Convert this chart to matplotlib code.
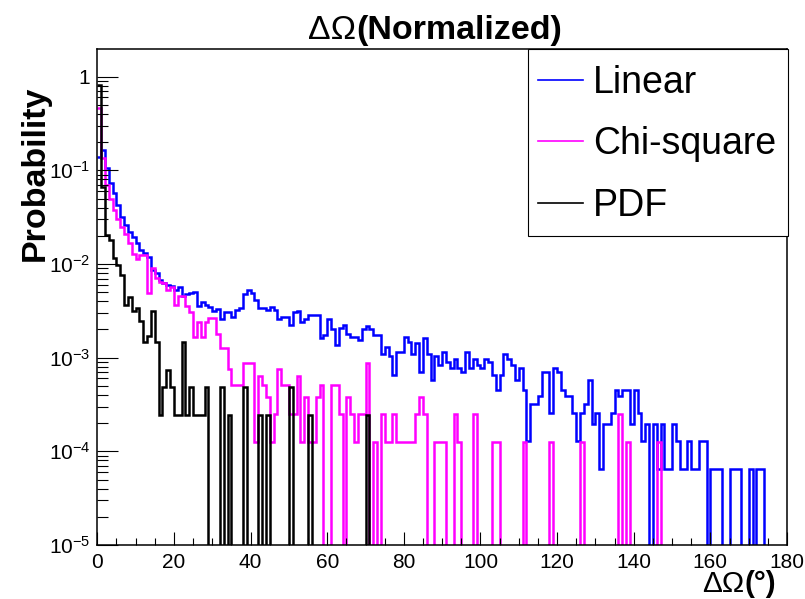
import numpy as np
import matplotlib
matplotlib.use("Agg")
import matplotlib.pyplot as plt
import matplotlib.ticker as mticker
from matplotlib.lines import Line2D
from matplotlib.patches import Rectangle

plt.rcParams['font.family'] = ['Liberation Sans', 'DejaVu Sans']
plt.rcParams['mathtext.fontset'] = 'custom'
plt.rcParams['mathtext.rm'] = 'Liberation Sans'
plt.rcParams['mathtext.it'] = 'Liberation Sans:italic'
plt.rcParams['mathtext.bf'] = 'Liberation Sans:bold'

# ---------------- data (1-degree bins, 0..180 deg) ----------------
X_MIN, X_MAX, BIN_WIDTH = 0.0, 180.0, 1.0
series_names = ["Linear", "Chi-square", "PDF"]
series_colors = ["#0000ff", "#ff00ff", "#000000"]

# raw entries per bin, normalised by the number of events of each method
linear_total = 15500
linear_counts = [
    2139, 2558, 1628, 1132, 884, 667, 496, 403, 341, 304,
    257, 219, 202, 186, 135, 123, 105, 96, 92, 90,
    82, 88, 70, 75, 76, 77, 55, 61, 57, 54,
    49, 51, 40, 48, 48, 42, 50, 52, 75, 82,
    76, 64, 52, 52, 50, 54, 50, 40, 42, 42,
    35, 48, 49, 37, 40, 44, 44, 44, 25, 27,
    40, 31, 21, 32, 35, 28, 26, 26, 24, 31,
    34, 31, 27, 27, 17, 20, 16, 10, 18, 18,
    26, 23, 17, 22, 11, 25, 17, 9, 16, 13,
    18, 14, 12, 15, 12, 11, 18, 12, 15, 13,
    12, 15, 14, 10, 7, 10, 17, 15, 13, 9,
    12, 7, 2, 5, 5, 6, 11, 11, 4, 12,
    11, 7, 6, 6, 4, 2, 4, 5, 9, 3,
    4, 1, 3, 3, 4, 7, 6, 7, 7, 3,
    7, 4, 2, 3, 0, 3, 1, 3, 1, 1,
    3, 2, 1, 1, 2, 1, 1, 2, 2, 0,
    1, 1, 1, 0, 0, 1, 1, 1, 0, 0,
    1, 0, 1, 1, 0, 0, 0, 0, 0, 0,
]

chisq_total = 7900
chisq_counts = [
    3634, 1066, 553, 395, 300, 237, 198, 166, 134, 101,
    90, 99, 99, 39, 71, 56, 51, 50, 42, 45,
    29, 36, 36, 28, 24, 13, 19, 13, 19, 21,
    21, 14, 10, 10, 6, 4, 4, 4, 7, 7,
    7, 1, 5, 4, 3, 1, 2, 6, 4, 4,
    2, 2, 5, 1, 3, 1, 1, 3, 4, 0,
    0, 4, 4, 2, 0, 3, 2, 1, 2, 2,
    7, 0, 1, 0, 2, 1, 1, 2, 1, 1,
    1, 1, 1, 2, 3, 2, 0, 0, 1, 1,
    1, 0, 0, 2, 1, 0, 0, 0, 2, 0,
    0, 0, 0, 1, 1, 0, 0, 0, 0, 0,
    0, 1, 0, 0, 0, 0, 0, 0, 1, 0,
    0, 0, 0, 0, 0, 0, 1, 0, 0, 0,
    0, 0, 0, 0, 0, 0, 2, 0, 1, 0,
    0, 0, 0, 0, 0, 0, 1, 0, 0, 0,
    0, 0, 0, 0, 0, 0, 0, 0, 0, 0,
    0, 0, 0, 0, 0, 0, 0, 0, 0, 0,
    0, 0, 0, 0, 0, 0, 0, 0, 0, 0,
]

pdf_total = 4100
pdf_counts = [
    3340, 275, 84, 74, 47, 40, 31, 15, 18, 13,
    14, 10, 6, 7, 13, 6, 1, 2, 3, 2,
    1, 1, 6, 1, 2, 1, 1, 1, 2, 0,
    0, 0, 2, 0, 1, 0, 0, 0, 2, 0,
    0, 0, 1, 0, 1, 0, 0, 0, 0, 0,
    2, 0, 0, 0, 0, 1, 0, 0, 0, 0,
    0, 0, 0, 0, 0, 0, 0, 0, 0, 0,
    1, 0, 0, 0, 0, 0, 0, 0, 0, 0,
    0, 0, 0, 0, 0, 0, 0, 0, 0, 0,
    0, 0, 0, 0, 0, 0, 0, 0, 0, 0,
    0, 0, 0, 0, 0, 0, 0, 0, 0, 0,
    0, 0, 0, 0, 0, 0, 0, 0, 0, 0,
    0, 0, 0, 0, 0, 0, 0, 0, 0, 0,
    0, 0, 0, 0, 0, 0, 0, 0, 0, 0,
    0, 0, 0, 0, 0, 0, 0, 0, 0, 0,
    0, 0, 0, 0, 0, 0, 0, 0, 0, 0,
    0, 0, 0, 0, 0, 0, 0, 0, 0, 0,
    0, 0, 0, 0, 0, 0, 0, 0, 0, 0,
]

x_ticks = [0, 20, 40, 60, 80, 100, 120, 140, 160, 180]
y_min, y_max = 1e-5, 1.96

title_greek = "ΔΩ"
title_rest = "(Normalized)"
xlabel_greek = "ΔΩ"
xlabel_rest = "(°)"
ylabel = "Probability"

# ---------------- figure ----------------
W, H = 805, 599
fig = plt.figure(figsize=(W / 100, H / 100), dpi=100)
L, R, T, B = 97.3, 787.0, 49.3, 545.0
ax = fig.add_axes([L / W, 1 - B / H, (R - L) / W, (B - T) / H])

edges = np.arange(X_MIN, X_MAX + BIN_WIDTH / 2, BIN_WIDTH)
series = [
    np.asarray(linear_counts, float) / linear_total,
    np.asarray(chisq_counts, float) / chisq_total,
    np.asarray(pdf_counts, float) / pdf_total,
]

ax.set_yscale('log', nonpositive='clip')
for vals, col in zip(series, series_colors):
    ax.stairs(vals, edges, baseline=None, color=col, lw=1.8)

ax.set_xlim(X_MIN, X_MAX)
ax.set_ylim(y_min, y_max)

for s in ax.spines.values():
    s.set_linewidth(1.1)

ax.set_xticks(x_ticks)
ax.xaxis.set_minor_locator(mticker.MultipleLocator(5))
ax.yaxis.set_major_locator(mticker.LogLocator(base=10, numticks=10))
ax.yaxis.set_minor_locator(mticker.LogLocator(base=10, subs=np.arange(2, 10), numticks=20))
ax.yaxis.set_minor_formatter(mticker.NullFormatter())


def yfmt(v, pos):
    e = int(round(np.log10(v)))
    if e == 0:
        return "1"
    return r"$10^{%d}$" % e


ax.yaxis.set_major_formatter(mticker.FuncFormatter(yfmt))
ax.tick_params(axis='x', which='major', direction='in', length=9.5, width=0.8,
               labelsize=15, pad=6, top=False)
ax.tick_params(axis='x', which='minor', direction='in', length=4.8, width=0.8, top=False)
ax.tick_params(axis='y', which='major', direction='in', length=15, width=0.8,
               labelsize=15, pad=5, right=False)
ax.tick_params(axis='y', which='minor', direction='in', length=8, width=0.8, right=False)

# titles
fig.text(356 / W, 1 - 39 / H, title_greek, ha='right', va='baseline', fontsize=24.5)
fig.text(356 / W, 1 - 39 / H, title_rest, ha='left', va='baseline', fontsize=24.5,
         fontweight='bold')
fig.text(744 / W, 1 - 592 / H, xlabel_greek, ha='right', va='baseline', fontsize=21.5)
fig.text(744 / W, 1 - 592 / H, xlabel_rest, ha='left', va='baseline', fontsize=21.5,
         fontweight='bold')
fig.text(35 / W, 1 - 173 / H, ylabel, rotation=90, ha='center', va='center',
         fontsize=24.5, fontweight='bold')

# legend
fig.add_artist(Rectangle((528 / W, 1 - 236 / H), (787.5 - 528) / W, (236 - 49.3) / H,
                         transform=fig.transFigure, facecolor='white',
                         edgecolor='black', lw=0.8, zorder=3))
handles = [Line2D([], [], color=c, lw=1.2) for c in series_colors]
fig.legend(handles, series_names, loc='upper left',
           bbox_to_anchor=(538 / W, 1 - 65 / H), bbox_transform=fig.transFigure,
           frameon=False, fontsize=27, borderpad=0, borderaxespad=0,
           handlelength=1.2, handletextpad=0.27, labelspacing=0.68)

fig.savefig("out.png", dpi=100)
